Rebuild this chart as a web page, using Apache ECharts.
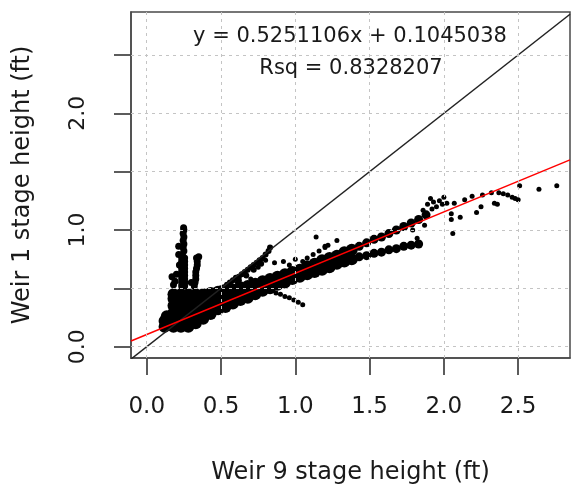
<!DOCTYPE html>
<html><head><meta charset="utf-8">
<script src="https://cdn.jsdelivr.net/npm/echarts@6/dist/echarts.min.js"></script>
<style>html,body{margin:0;padding:0;background:#fff}#c{width:572px;height:484px}</style>
</head><body><div id="c"></div>
<script>
const xTicks = [0, 0.5, 1.0, 1.5, 2.0, 2.5];
const yTicks = [0, 0.5, 1.0, 1.5, 2.0, 2.5];
const yLabelTicks = [0, 1.0, 2.0];
const xRange = [-0.106, 2.849];
const yRange = [-0.097, 2.868];
const xTitle = 'Weir 9 stage height (ft)';
const yTitle = 'Weir 1 stage height (ft)';
const slope = 0.5251106;
const intercept = 0.1045038;
const rsq = 0.8328207;

// dense core of the point cloud
const denseBand = [
[0.12,0.17],[0.12,0.22],[0.135,0.26],
[0.18,0.17],[0.18,0.23],[0.18,0.29],[0.18,0.35],[0.18,0.41],[0.18,0.45],
[0.23,0.17],[0.23,0.23],[0.23,0.29],[0.23,0.35],[0.23,0.41],[0.23,0.45],
[0.28,0.17],[0.28,0.23],[0.28,0.29],[0.28,0.35],[0.28,0.41],[0.28,0.45],
[0.33,0.20],[0.33,0.26],[0.33,0.32],[0.33,0.38],[0.33,0.45],
[0.38,0.24],[0.38,0.30],[0.38,0.36],[0.38,0.42],[0.38,0.45],
[0.43,0.28],[0.43,0.34],[0.43,0.40],[0.43,0.46],
[0.48,0.32],[0.48,0.38],[0.48,0.44],[0.48,0.47],
[0.53,0.34],[0.53,0.40],[0.53,0.46],[0.53,0.48],
[0.58,0.37],[0.58,0.43],[0.58,0.49],
[0.63,0.40],[0.63,0.46],[0.63,0.51],
[0.68,0.42],[0.68,0.48],[0.68,0.52],
[0.73,0.45],[0.73,0.50],[0.73,0.54],
[0.78,0.48],[0.78,0.53],[0.78,0.56],
[0.83,0.50],[0.83,0.55],[0.83,0.58],
[0.88,0.53],[0.88,0.57],[0.88,0.60],
[0.93,0.55],[0.93,0.59],[0.93,0.62],
[0.98,0.58],[0.98,0.61],[0.98,0.64],
[1.03,0.60],[1.03,0.63],[1.03,0.66],
[1.08,0.62],[1.08,0.66],[1.08,0.69],
[1.13,0.64],[1.13,0.68],[1.13,0.71],
[1.18,0.66],[1.18,0.70],[1.18,0.74],
[1.23,0.68],[1.23,0.72],[1.23,0.76],
[1.28,0.71],[1.28,0.75],[1.28,0.78],
[1.33,0.73],[1.33,0.77],[1.33,0.81],
[1.38,0.75],[1.38,0.83]
];

// the two thinner branches at high stage
const branchPoints = [
[1.43,0.86],[1.48,0.89],[1.53,0.92],[1.58,0.94],[1.63,0.97],[1.68,1.00],[1.73,1.03],[1.78,1.06],[1.83,1.09],[1.88,1.13],
[1.43,0.77],[1.48,0.78],[1.53,0.80],[1.58,0.81],[1.63,0.83],[1.68,0.84],[1.73,0.86],[1.78,0.87],[1.83,0.88]
];

// vertical spikes at low stage
const spikePoints = [
[0.235,0.52],[0.255,0.52],[0.235,0.55],[0.255,0.55],[0.235,0.58],[0.255,0.58],[0.235,0.61],[0.255,0.61],
[0.235,0.64],[0.255,0.64],[0.235,0.67],[0.255,0.67],[0.235,0.70],[0.255,0.70],[0.235,0.73],[0.255,0.73],
[0.235,0.76],[0.255,0.76],[0.24,0.79],[0.25,0.82],[0.245,0.85],[0.25,0.88],[0.245,0.91],[0.25,0.94],
[0.245,0.97],[0.25,1.00],[0.248,1.02],
[0.215,0.79],[0.215,0.86],[0.22,0.70],[0.20,0.62],[0.19,0.56],[0.17,0.60],[0.18,0.53],
[0.32,0.52],[0.325,0.55],[0.33,0.58],[0.33,0.61],[0.33,0.64],[0.335,0.67],[0.34,0.70],[0.34,0.73],
[0.335,0.76],[0.35,0.77],[0.30,0.55]
];

// streak along the 1:1 line
const diagStreak = [
[0.42,0.44],[0.44,0.45],[0.46,0.47],[0.48,0.48],[0.50,0.50],[0.52,0.51],[0.54,0.53],[0.56,0.55],
[0.58,0.57],[0.60,0.59],[0.62,0.60],[0.64,0.62],[0.66,0.64],[0.68,0.66],[0.70,0.68],[0.72,0.70],
[0.74,0.72],[0.76,0.74],[0.78,0.76],[0.80,0.79],[0.82,0.82],[0.83,0.85],
[0.47,0.44],[0.52,0.48],[0.57,0.52],[0.62,0.57],[0.67,0.61],[0.72,0.66],[0.77,0.71]
];

// scattered individual points
const scatterPoints = [
[0.56,0.53],[0.61,0.55],[0.70,0.58],[0.75,0.68],[0.80,0.74],[0.86,0.72],[0.92,0.73],[0.96,0.70],[1.00,0.75],[1.05,0.73],
[1.08,0.76],[1.12,0.79],[1.16,0.82],[1.20,0.85],[1.22,0.87],
[1.14,0.94],[1.20,0.86],[1.28,0.91],
[0.81,0.50],[0.84,0.48],[0.87,0.46],[0.90,0.45],[0.93,0.43],[0.96,0.42],[0.99,0.40],[1.02,0.38],[1.05,0.36],
[1.82,0.93],[1.87,1.04],[1.79,1.00],
[1.89,1.22],[1.91,1.27],[1.93,1.24],[1.95,1.20],[1.97,1.25],[1.99,1.22],[1.92,1.18],[1.86,1.17],
[2.00,1.28],[2.02,1.23],[2.07,1.23],[2.05,1.14],[2.05,1.09],[2.11,1.11],[2.06,0.97],
[2.14,1.26],[2.19,1.29],[2.22,1.15],[2.25,1.20],[2.26,1.30],[2.32,1.32],[2.34,1.23],[2.36,1.22],
[2.37,1.32],[2.40,1.31],[2.43,1.30],[2.46,1.28],[2.48,1.27],[2.50,1.26],[2.51,1.38],[2.64,1.35],[2.76,1.38]
];

const FONT = 'DejaVu Sans';
const TXT = '#1a1a1a';
const AXC = '#4a4a4a';

const fitLine = [[xRange[0], intercept + slope * xRange[0]], [xRange[1], intercept + slope * xRange[1]]];
const oneToOne = [[xRange[0], xRange[0]], [xRange[1], xRange[1]]];

const chart = echarts.init(document.getElementById('c'), null, {renderer: 'canvas'});
const ptStyle = {color: '#000', opacity: 1, borderWidth: 0};

chart.setOption({
  animation: false,
  backgroundColor: '#fff',
  grid: {left: 131, right: 2, top: 12, bottom: 126, outerBoundsMode: 'none', containLabel: false,
         show: true, borderColor: AXC, borderWidth: 1.5, backgroundColor: 'transparent'},
  xAxis: {
    type: 'value', min: xRange[0], max: xRange[1],
    axisLine: {show: true, onZero: false, lineStyle: {color: AXC, width: 1.5}},
    axisTick: {show: true, length: 17, customValues: xTicks, lineStyle: {color: AXC, width: 1.8}},
    axisLabel: {customValues: xTicks, formatter: v => v.toFixed(1), margin: 38, fontSize: 23, fontFamily: FONT, color: TXT},
    splitLine: {show: false},
    name: xTitle, nameLocation: 'middle', nameGap: 103,
    nameTextStyle: {fontSize: 24, fontFamily: FONT, color: TXT}
  },
  yAxis: {
    type: 'value', min: yRange[0], max: yRange[1],
    axisLine: {show: true, onZero: false, lineStyle: {color: AXC, width: 1.5}},
    axisTick: {show: true, length: 17, customValues: yTicks, lineStyle: {color: AXC, width: 1.8}},
    axisLabel: {customValues: yLabelTicks, rotate: 90, formatter: v => v.toFixed(1), margin: 42, fontSize: 22, fontFamily: FONT, color: TXT},
    splitLine: {show: false},
    name: yTitle, nameLocation: 'middle', nameGap: 96,
    nameTextStyle: {fontSize: 24, fontFamily: FONT, color: TXT}
  },
  graphic: [
    {type: 'text', x: 350, y: 37, z: 10, style: {text: 'y = ' + slope + 'x + ' + intercept, textAlign: 'center', textVerticalAlign: 'middle', font: '21px "DejaVu Sans"', fill: TXT}},
    {type: 'text', x: 351, y: 69, z: 10, style: {text: 'Rsq = ' + rsq, textAlign: 'center', textVerticalAlign: 'middle', font: '21px "DejaVu Sans"', fill: TXT}}
  ],
  series: [
    {type: 'scatter', data: [], silent: true, z: 1,
     markLine: {silent: true, symbol: ['none', 'none'], label: {show: false},
       lineStyle: {type: [3, 4], color: '#c4c4c4', width: 1},
       data: xTicks.map(v => ({xAxis: v})).concat(yTicks.map(v => ({yAxis: v})))}},
    {type: 'scatter', data: denseBand, symbolSize: 12, itemStyle: ptStyle, z: 2},
    {type: 'scatter', data: branchPoints, symbolSize: 9, itemStyle: ptStyle, z: 2},
    {type: 'scatter', data: spikePoints, symbolSize: 7, itemStyle: ptStyle, z: 2},
    {type: 'scatter', data: diagStreak, symbolSize: 6, itemStyle: ptStyle, z: 2},
    {type: 'scatter', data: scatterPoints, symbolSize: 5, itemStyle: ptStyle, z: 2},
    {type: 'line', data: oneToOne, symbol: 'none', clip: true, lineStyle: {color: '#222', width: 1.5}, z: 3},
    {type: 'line', data: fitLine, symbol: 'none', clip: true, lineStyle: {color: '#ff0000', width: 1.5}, z: 4}
  ]
});
</script>
</body></html>
